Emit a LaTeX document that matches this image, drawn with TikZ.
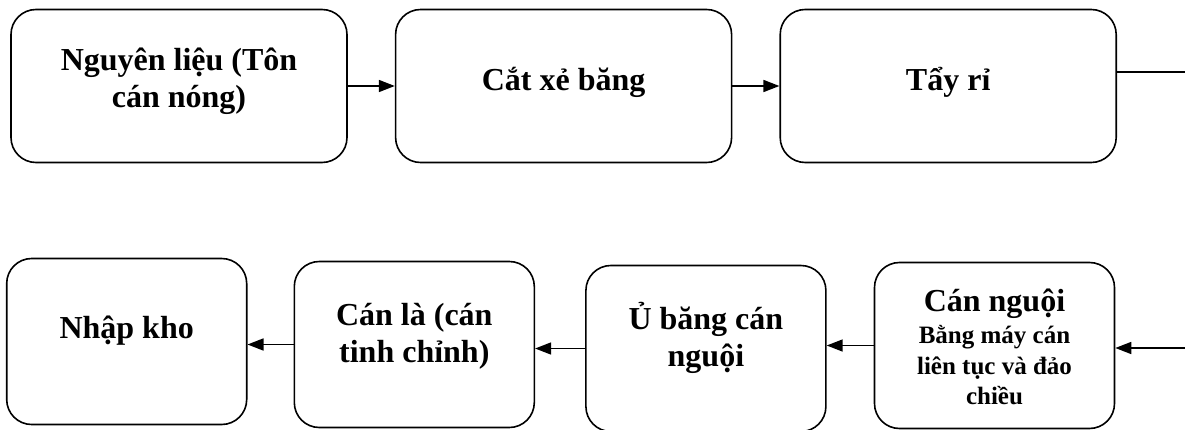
\documentclass[tikz,border=0pt]{standalone}
\usepackage{fontspec}
\setmainfont{Liberation Serif}
\usetikzlibrary{arrows.meta,positioning}

\newcommand{\subline}{\fontsize{25}{30}\selectfont}
% lines of a box, lifted without changing the box size
\newcommand{\lines}[2][0pt]{\raisebox{#1}[\height][\depth]{\begin{tabular}{@{}c@{}}#2\end{tabular}}}

\tikzset{
  stage/.style={draw,line width=1.6pt,rounded corners=25pt,
    font=\bfseries\fontsize{32}{37}\selectfont,inner sep=0pt},
  wide/.style={stage,minimum width=336pt,minimum height=153pt},
  narrow/.style={stage,minimum width=240pt,minimum height=166pt}
}

\begin{document}
\begin{tikzpicture}[->,>={Triangle[length=16pt,width=12pt]},line width=1.6pt]

\useasboundingbox (0,0) rectangle (1185pt,429pt);

% first row
\node[wide] (raw) at (179pt,343pt) {\lines[4pt]{Nguyên liệu (Tôn\\cán nóng)}};
\node[wide] (slit) [right=47pt of raw] {\lines[3pt]{Cắt xẻ băng}};
\node[wide] (pickle) [right=47pt of slit] {\lines[3pt]{Tẩy rỉ}};

% second row, right to left
\node[narrow] (cold) at (994.5pt,83.5pt) {\lines[-5pt]{Cán nguội\\[-5pt]\subline Bằng máy cán\\[-6pt]\subline liên tục và đảo\\[-7pt]\subline chiều}};
\node[narrow] (anneal) [left=47pt of cold,yshift=-3pt] {\lines[9pt]{Ủ băng cán\\nguội}};
\node[narrow] (temper) [left=50pt of anneal,yshift=4pt] {\lines[8pt]{Cán là (cán\\tinh chỉnh)}};
\node[narrow] (store) [left=46pt of temper,yshift=3pt] {\lines[10pt]{Nhập kho}};

\coordinate (cutA) at (1185pt,357pt);
\coordinate (cutB) at (1185pt,81pt);

\path (raw) edge (slit)
  (slit) edge (pickle);
\draw[-] (cutA -| pickle.east) -- (cutA);
\draw (cutB) -- (cutB -| cold.east);
\draw (cold.west) -- (cold.west -| anneal.east);
\draw (anneal.west) -- (anneal.west -| temper.east);
\draw (temper.west) -- (temper.west -| store.east);

\end{tikzpicture}
\end{document}
